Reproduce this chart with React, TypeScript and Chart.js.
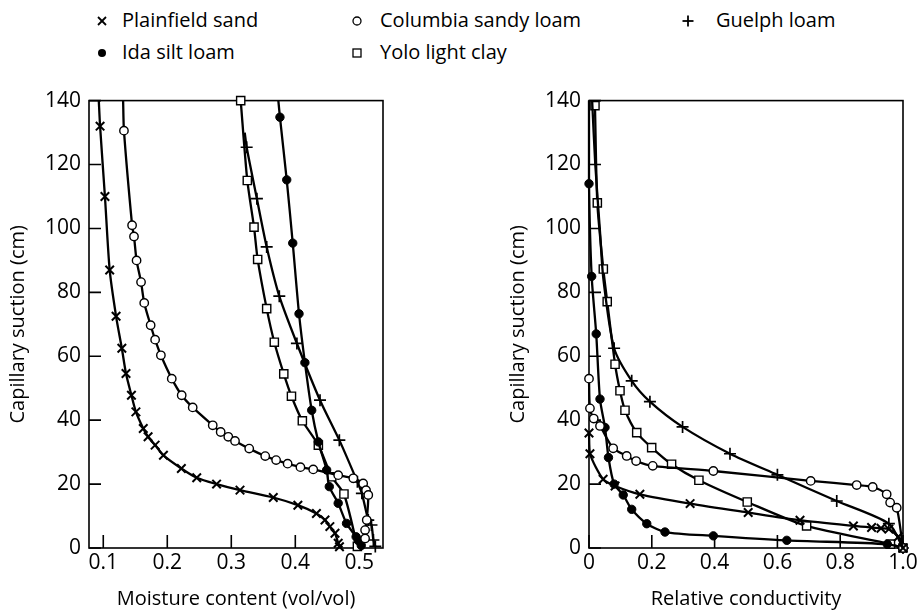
import React, { useEffect, useRef } from 'react';
import { Chart, registerables } from 'chart.js';

Chart.register(...registerables);

type P = [number, number];

// ---------- Left panel: [moisture content (vol/vol), capillary suction (cm)] ----------
const plainfieldMoisture: P[] = [
  [0.093, 140], [0.095, 132], [0.1026, 110], [0.110, 87], [0.120, 72.5], [0.129, 62.5],
  [0.1355, 54.6], [0.144, 47.8], [0.151, 42.6], [0.1625, 37.4], [0.170, 34.8], [0.181, 32.2],
  [0.194, 29], [0.222, 24.9], [0.246, 22], [0.277, 20], [0.3136, 18.1], [0.3656, 15.8],
  [0.404, 13.4], [0.433, 10.8], [0.4464, 8.75], [0.454, 6.7], [0.462, 4.6], [0.467, 1.5], [0.469, 0.4],
];
const columbiaMoisture: P[] = [
  [0.131, 140], [0.1323, 130.6], [0.145, 101], [0.148, 97.5], [0.152, 90], [0.159, 83.2],
  [0.164, 76.7], [0.174, 69.7], [0.181, 65.2], [0.190, 60.3], [0.207, 53], [0.2225, 47.8],
  [0.2397, 44], [0.271, 38.4], [0.2834, 36.3], [0.2953, 34.8], [0.3058, 33.5], [0.328, 31.1],
  [0.353, 28.75], [0.370, 27.5], [0.388, 26.4], [0.408, 25.3], [0.428, 24.6], [0.467, 22.8],
  [0.4906, 21.8], [0.506, 20.2], [0.5105, 18.1], [0.514, 16.6], [0.5116, 8.75], [0.509, 5.6], [0.509, 3],
];
const guelphMoisture: P[] = [
  [0.321, 130], [0.324, 125.4], [0.340, 109.3], [0.3553, 94.2], [0.375, 78.8], [0.4025, 64],
  [0.4386, 46.25], [0.4688, 33.75], [0.497, 20.7], [0.504, 17.1], [0.514, 8.75], [0.519, 7.2],
  [0.522, 2.5], [0.525, 0.5],
];
const idaMoisture: P[] = [
  [0.3735, 140], [0.376, 134.8], [0.3866, 115.2], [0.396, 95.4], [0.4058, 73.3], [0.415, 58],
  [0.4256, 43.1], [0.436, 33.2], [0.449, 24.4], [0.4531, 19.2], [0.467, 14], [0.480, 7.7],
  [0.495, 3.5], [0.4984, 2.3], [0.503, 0.8],
];
const yoloMoisture: P[] = [
  [0.3147, 140], [0.325, 115], [0.3355, 100.4], [0.3412, 90.3], [0.3553, 74.9], [0.3672, 64.4],
  [0.382, 54.5], [0.394, 47.5], [0.411, 39.8], [0.436, 32.2], [0.4569, 22.3], [0.476, 16.9], [0.497, 0.5],
];

// ---------- Right panel: [relative conductivity, capillary suction (cm)] ----------
const plainfieldConductivity: P[] = [
  [0.0, 36], [0.003, 29.5], [0.045, 21.5], [0.083, 19.4], [0.162, 16.8], [0.322, 13.9],
  [0.507, 11.1], [0.672, 8.7], [0.842, 6.9], [0.90, 6.4], [0.93, 6.2], [0.955, 5.9], [0.985, 3.5], [1.0, 0],
];
const columbiaConductivity: P[] = [
  [0.0, 53], [0.003, 43.7], [0.015, 40.5], [0.035, 38.2], [0.077, 31.2], [0.12, 28.8], [0.15, 27.2],
  [0.203, 25.7], [0.396, 24.1], [0.706, 21], [0.8525, 19.7], [0.9035, 19.1], [0.948, 16.8],
  [0.959, 14.2], [0.98, 12.6], [1.0, 0],
];
const guelphConductivity: P[] = [
  [0.01, 140], [0.02, 120], [0.035, 99], [0.046, 84], [0.08, 62.5], [0.136, 52.3], [0.194, 45.8],
  [0.298, 37.9], [0.449, 29.5], [0.6, 22.9], [0.789, 14.7], [0.955, 7.6], [1.0, 0],
];
const idaConductivity: P[] = [
  [0.0, 140], [0.0, 114], [0.0085, 85], [0.023, 67], [0.035, 46.6], [0.051, 37.7], [0.062, 28.3],
  [0.08, 20], [0.109, 16.6], [0.136, 12.1], [0.184, 7.6], [0.242, 5], [0.396, 3.8], [0.63, 2.4],
  [0.95, 1.2], [1.0, 0],
];
const yoloConductivity: P[] = [
  [0.019, 138.4], [0.0265, 108], [0.0456, 87.3], [0.058, 77.1], [0.083, 57.5], [0.0987, 49.2],
  [0.1146, 43.1], [0.152, 36.1], [0.1996, 31.4], [0.263, 26.2], [0.35, 21.2], [0.504, 14.4],
  [0.693, 6.9], [0.96, 1.2], [1.0, 0],
];

// leading points of each curve drawn as line only (no symbol)
const unmarkedMoisture = [1, 1, 1, 1, 0];
const unmarkedConductivity = [0, 0, 4, 1, 0];

const seriesNames = ['Plainfield sand', 'Columbia sandy loam', 'Guelph loam', 'Ida silt loam', 'Yolo light clay'];

const suctionTicks = [0, 20, 40, 60, 80, 100, 120, 140];
const moistureTicks = [0.1, 0.2, 0.3, 0.4, 0.5];
const moistureTickLabels = ['0.1', '0.2', '0.3', '0.4', '0.5'];
const conductivityTicks = [0, 0.2, 0.4, 0.6, 0.8, 1.0];
const conductivityTickLabels = ['0', '0.2', '0.4', '0.6', '0.8', '1.0'];
const moistureRange = [0.0777, 0.537];
const conductivityRange = [0, 1];
const suctionRange = [0, 140];

const FONT = '"Open Sans", "DejaVu Sans", sans-serif';

const markerStyles = [
  { pointStyle: 'crossRot', radius: 6, bg: '#000', bw: 2 },
  { pointStyle: 'circle', radius: 4.2, bg: '#fff', bw: 1.4 },
  { pointStyle: 'cross', radius: 6, bg: '#000', bw: 1.7 },
  { pointStyle: 'circle', radius: 4.2, bg: '#000', bw: 1 },
  { pointStyle: 'rect', radius: 5.8, bg: '#fff', bw: 1.4 },
];

const framePlugin = {
  id: 'frameTicks',
  beforeDatasetsDraw(chart: any) {
    const { ctx, chartArea: a, scales } = chart;
    ctx.save();
    ctx.strokeStyle = '#000';
    ctx.lineWidth = 1.6;
    ctx.strokeRect(a.left, a.top, a.right - a.left, a.bottom - a.top);
    ctx.beginPath();
    for (const t of scales.y.ticks) {
      const py = scales.y.getPixelForValue(t.value);
      ctx.moveTo(a.left, py);
      ctx.lineTo(a.left + 12, py);
    }
    for (const t of scales.x.ticks) {
      const px = scales.x.getPixelForValue(t.value);
      ctx.moveTo(px, a.bottom);
      ctx.lineTo(px, a.bottom - 13);
    }
    ctx.stroke();
    ctx.restore();
  },
};

function makeConfig(
  series: P[][],
  unmarked: number[],
  xRange: number[],
  xTicks: number[],
  xLabels: string[],
  xTitle: string,
  padRight: number,
): any {
  return {
    type: 'scatter',
    data: {
      datasets: series.map((pts, i) => {
        const m = markerStyles[i];
        return {
          label: seriesNames[i],
          data: pts.map(([x, y]) => ({ x, y })),
          showLine: true,
          tension: 0.25,
          borderColor: '#000',
          borderWidth: 2.3,
          pointStyle: m.pointStyle,
          pointRadius: (c: any) => (c.dataIndex < unmarked[i] ? 0 : m.radius),
          pointBackgroundColor: m.bg,
          pointBorderColor: '#000',
          pointBorderWidth: m.bw,
          clip: false,
        };
      }),
    },
    options: {
      responsive: false,
      animation: false,
      events: [],
      layout: { padding: { top: 20, right: padRight, bottom: 0, left: 0 } },
      plugins: { legend: { display: false }, tooltip: { enabled: false } },
      scales: {
        x: {
          type: 'linear',
          min: xRange[0],
          max: xRange[1],
          afterBuildTicks: (s: any) => {
            s.ticks = xTicks.map((v) => ({ value: v }));
          },
          afterFit: (s: any) => {
            s.height = 66;
          },
          grid: { display: false, drawTicks: false },
          border: { display: false },
          ticks: {
            color: '#000',
            font: { family: FONT, size: 21 },
            padding: 2,
            maxRotation: 0,
            autoSkip: false,
            callback: (_v: any, i: number) => xLabels[i],
          },
          title: {
            display: true,
            text: xTitle,
            color: '#000',
            font: { family: FONT, size: 20 },
            padding: { top: 0, bottom: 3 },
          },
        },
        y: {
          type: 'linear',
          min: suctionRange[0],
          max: suctionRange[1],
          afterBuildTicks: (s: any) => {
            s.ticks = suctionTicks.map((v) => ({ value: v }));
          },
          afterFit: (s: any) => {
            s.width = 89;
          },
          grid: { display: false, drawTicks: false },
          border: { display: false },
          ticks: {
            color: '#000',
            font: { family: FONT, size: 21 },
            padding: 8,
            callback: (v: any) => String(v),
          },
          title: {
            display: true,
            text: 'Capillary suction (cm)',
            color: '#000',
            font: { family: FONT, size: 20 },
            padding: { top: 6, bottom: 0 },
          },
        },
      },
    },
    plugins: [framePlugin],
  };
}

function LegendMarker({ kind, cx, cy }: { kind: number; cx: number; cy: number }) {
  const s = { stroke: '#000', fill: 'none' } as any;
  if (kind === 0)
    return (
      <g {...s} strokeWidth={1.8}>
        <line x1={cx - 4} y1={cy - 4} x2={cx + 4} y2={cy + 4} />
        <line x1={cx - 4} y1={cy + 4} x2={cx + 4} y2={cy - 4} />
      </g>
    );
  if (kind === 1) return <circle cx={cx} cy={cy} r={4} {...s} strokeWidth={1.3} />;
  if (kind === 2)
    return (
      <g {...s} strokeWidth={1.8}>
        <line x1={cx - 5.5} y1={cy} x2={cx + 5.5} y2={cy} />
        <line x1={cx} y1={cy - 5.5} x2={cx} y2={cy + 5.5} />
      </g>
    );
  if (kind === 3) return <circle cx={cx} cy={cy} r={4} fill="#000" />;
  return <rect x={cx - 4} y={cy - 4} width={8} height={8} {...s} strokeWidth={1.3} />;
}

const legendLayout = [
  { kind: 0, mx: 102, my: 21, tx: 122, ty: 8 },
  { kind: 1, mx: 357, my: 21, tx: 380, ty: 8 },
  { kind: 2, mx: 688, my: 21, tx: 716, ty: 8 },
  { kind: 3, mx: 102, my: 53, tx: 122, ty: 40 },
  { kind: 4, mx: 357, my: 53, tx: 380, ty: 40 },
];

export default function App() {
  const leftRef = useRef<HTMLCanvasElement>(null);
  const rightRef = useRef<HTMLCanvasElement>(null);

  useEffect(() => {
    const left = new Chart(
      leftRef.current as HTMLCanvasElement,
      makeConfig(
        [plainfieldMoisture, columbiaMoisture, guelphMoisture, idaMoisture, yoloMoisture],
        unmarkedMoisture,
        moistureRange,
        moistureTicks,
        moistureTickLabels,
        'Moisture content (vol/vol)',
        17,
      ),
    );
    const right = new Chart(
      rightRef.current as HTMLCanvasElement,
      makeConfig(
        [plainfieldConductivity, columbiaConductivity, guelphConductivity, idaConductivity, yoloConductivity],
        unmarkedConductivity,
        conductivityRange,
        conductivityTicks,
        conductivityTickLabels,
        'Relative conductivity',
        19,
      ),
    );
    return () => {
      left.destroy();
      right.destroy();
    };
  }, []);

  return (
    <div
      style={{
        position: 'absolute',
        left: 0,
        top: 0,
        width: 922,
        height: 614,
        background: '#fff',
        fontFamily: FONT,
        color: '#000',
        overflow: 'hidden',
      }}
    >
      <svg width={922} height={80} style={{ position: 'absolute', left: 0, top: 0 }}>
        {legendLayout.map((l, i) => (
          <LegendMarker key={i} kind={l.kind} cx={l.mx} cy={l.my} />
        ))}
      </svg>
      {legendLayout.map((l, i) => (
        <div
          key={i}
          style={{
            position: 'absolute',
            left: l.tx,
            top: l.ty,
            fontSize: 20,
            lineHeight: '24px',
            whiteSpace: 'nowrap',
          }}
        >
          {seriesNames[l.kind]}
        </div>
      ))}
      <canvas
        ref={leftRef}
        width={400}
        height={534}
        style={{ position: 'absolute', left: 0, top: 80, width: 400, height: 534 }}
      />
      <canvas
        ref={rightRef}
        width={422}
        height={534}
        style={{ position: 'absolute', left: 500, top: 80, width: 422, height: 534 }}
      />
    </div>
  );
}
